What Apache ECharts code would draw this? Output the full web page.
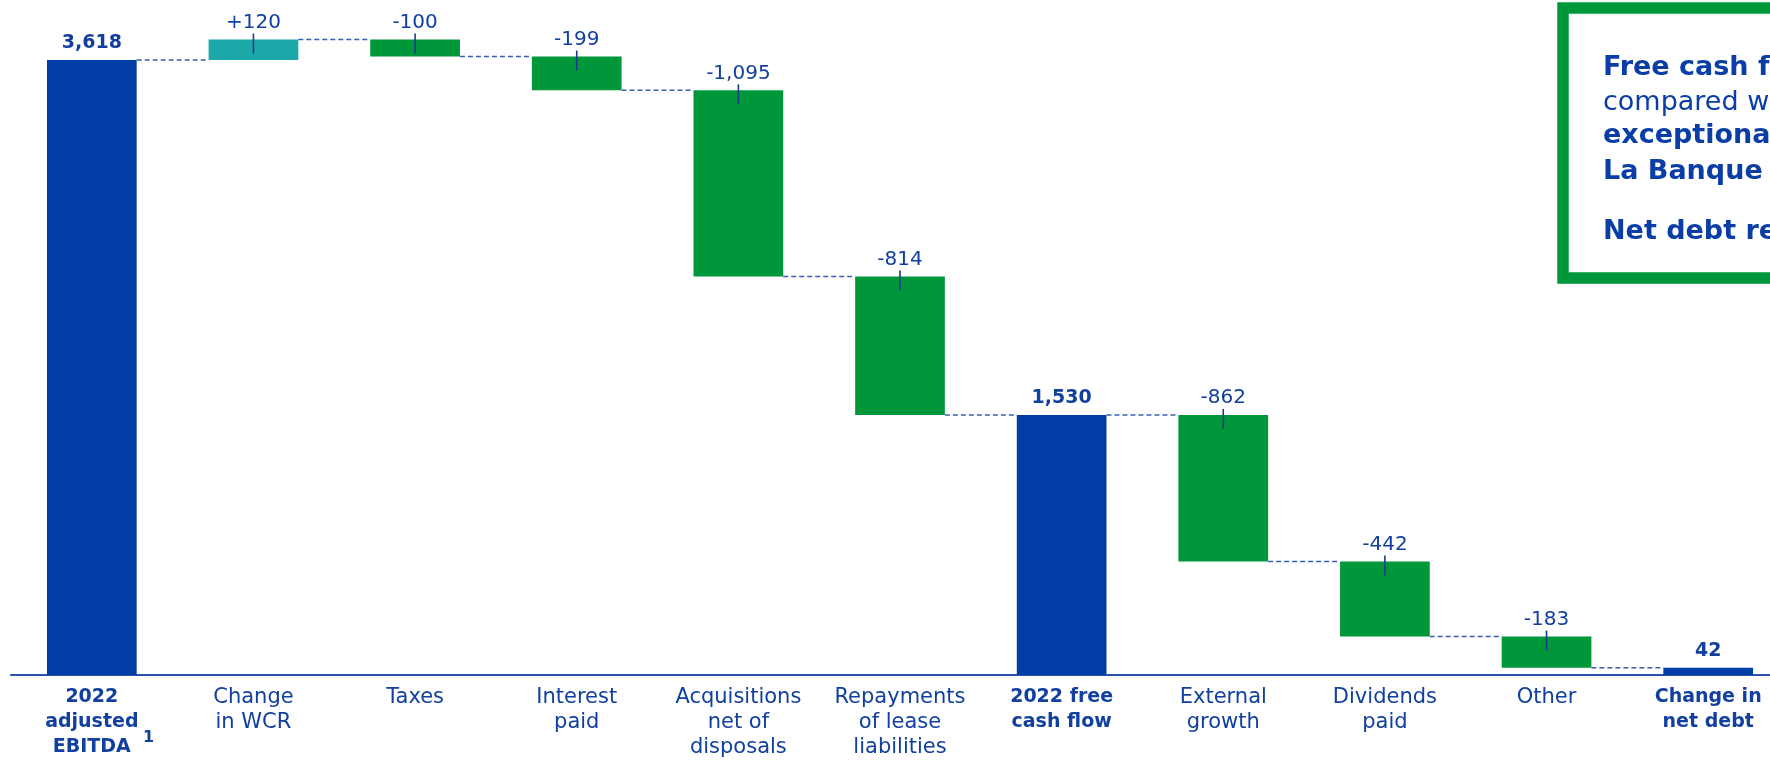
<!DOCTYPE html>
<html><head><meta charset="utf-8">
<script src="https://cdn.jsdelivr.net/npm/echarts@6/dist/echarts.min.js"></script>
<style>html,body{margin:0;padding:0;background:#fff;overflow:hidden;width:1770px;height:760px}#c{width:1800px;height:760px}</style>
</head><body><div id="c"></div>
<script>
const categories = ['2022\nadjusted\nEBITDA', 'Change\nin WCR', 'Taxes', 'Interest\npaid', 'Acquisitions\nnet of\ndisposals', 'Repayments\nof lease\nliabilities', '2022 free\ncash flow', 'External\ngrowth', 'Dividends\npaid', 'Other', 'Change in\nnet debt'];
const values = [3618, 120, -100, -199, -1095, -814, 1530, -862, -442, -183, 42];
const isTotal = [true, false, false, false, false, false, true, false, false, false, true];
const boxLines = [
  {text: 'Free cash flow of', bold: true},
  {text: 'compared with', bold: false},
  {text: 'exceptional', bold: true},
  {text: 'La Banque Postale', bold: true},
  {text: 'Net debt reduced', bold: true}
];

const FONT = 'DejaVu Sans';
const TXT = '#1240A0';
const C_TOTAL = '#003DA5', C_POS = '#1CA7A8', C_NEG = '#00963A';
const BARW = 0.555;

const base = [], height = [], tops = [], levels = [];
let run = 0;
values.forEach((v, i) => {
  if (isTotal[i]) { base.push(0); height.push(v); tops.push(v); run = v; }
  else {
    const s = run, e = run + v;
    base.push(Math.min(s, e)); height.push(Math.abs(v)); tops.push(Math.max(s, e)); run = e;
  }
  levels.push(run);
});
const fmt = n => Math.abs(n).toLocaleString('en-US');

const chart = echarts.init(document.getElementById('c'));
chart.setOption({
  animation: false,
  grid: {left: 11, top: 12, width: 1778, height: 665, containLabel: false},
  xAxis: {
    type: 'category', data: categories,
    axisLine: {lineStyle: {color: '#2A52A8', width: 2}},
    axisTick: {show: false},
    axisLabel: {
      interval: 0, margin: 10, color: TXT, fontSize: 21, lineHeight: 25, fontFamily: FONT,
      formatter: (val, idx) => isTotal[idx] ? val.split('\n').map(s => '{b|' + s + '}').join('\n') : val,
      rich: {b: {fontWeight: 'bold', fontSize: 19, lineHeight: 25, color: TXT, fontFamily: FONT}}
    }
  },
  yAxis: {type: 'value', min: 0, max: 3900, show: false},
  series: [
    {type: 'bar', stack: 'w', barWidth: (BARW * 100) + '%', silent: true,
     itemStyle: {color: 'rgba(0,0,0,0)'}, data: base},
    {type: 'bar', stack: 'w', barWidth: (BARW * 100) + '%',
     data: height.map((h, i) => ({value: h, itemStyle: {color: isTotal[i] ? C_TOTAL : (values[i] > 0 ? C_POS : C_NEG)}})),
     label: {
       show: true, position: 'top', distance: 7, color: TXT, fontSize: 20, fontFamily: FONT,
       formatter: p => {
         const v = values[p.dataIndex];
         if (isTotal[p.dataIndex]) return '{b|' + fmt(v) + '}';
         return (v > 0 ? '+' : '-') + fmt(v);
       },
       rich: {b: {fontWeight: 'bold', fontSize: 19, color: TXT, fontFamily: FONT}}
     }},
    {type: 'custom', z: 5, silent: true,
     data: levels.slice(0, -1).map((l, i) => [i, l]),
     encode: {x: 0, y: 1},
     renderItem: (params, api) => {
       const p = api.coord([api.value(0), api.value(1)]);
       const band = api.size([1, 0])[0];
       const bw = band * BARW;
       return {type: 'line', shape: {x1: p[0] + bw / 2, y1: p[1], x2: p[0] + band - bw / 2, y2: p[1]},
               style: {stroke: '#3A5FB4', lineWidth: 1.5, lineDash: [5, 3]}};
     }},
    {type: 'custom', z: 6, silent: true,
     data: tops.map((t, i) => [i, t]).filter((d, i) => !isTotal[i]),
     encode: {x: 0, y: 1},
     renderItem: (params, api) => {
       const p = api.coord([api.value(0), api.value(1)]);
       return {type: 'line', shape: {x1: p[0], y1: p[1] - 6, x2: p[0], y2: p[1] + 14},
               style: {stroke: '#1A3A8F', lineWidth: 1.6}};
     }}
  ],
  graphic: [
    {type: 'text', left: 143, top: 730, z: 10,
     style: {text: '1', fill: TXT, font: 'bold 16px "' + FONT + '"'}},
    {type: 'rect', z: 10, shape: {x: 1563, y: 8, width: 400, height: 270},
     style: {fill: '#fff', stroke: '#00963A', lineWidth: 11.5}},
    ...boxLines.map((l, i) => ({
      type: 'text', z: 11, x: 1603, y: [68, 103, 136, 172, 232][i],
      style: {text: l.text, fill: '#0A3EA6', verticalAlign: 'middle',
              font: (l.bold ? 'bold ' : '') + '27px "' + FONT + '"'}
    }))
  ]
});
</script></body></html>
